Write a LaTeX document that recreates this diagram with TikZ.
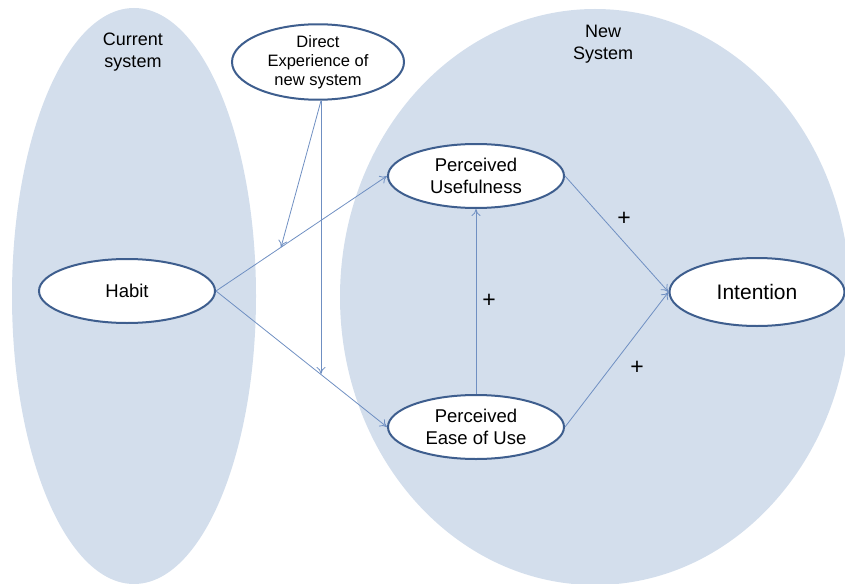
\documentclass[tikz,border=0pt]{standalone}
\usepackage{fontspec}
\setmainfont{Liberation Sans}
\usetikzlibrary{calc,shapes.geometric,arrows.meta}
\definecolor{zone}{HTML}{D3DEEC}
\definecolor{rim}{HTML}{3E5E8E}
\definecolor{link}{HTML}{6F8FC2}
\tikzset{
  construct/.style={ellipse, draw=rim, line width=2pt, fill=white,
    minimum width=176pt, minimum height=64pt, inner sep=0pt, align=center,
    font=\fontsize{18.5}{22}\selectfont},
  zonelabel/.style={align=center, font=\fontsize{18}{22}\selectfont},
  sign/.style={font=\fontsize{23}{23}\selectfont},
  path/.style={draw=link, line width=0.8pt, -{To[length=7pt,width=9pt]}}
}
\begin{document}
\begin{tikzpicture}[x=1pt,y=-1pt]
\useasboundingbox (0,0) rectangle (845,583);
% background regions
\fill[zone] (134,296) ellipse [x radius=122, y radius=288];
\fill[zone] (595,297) ellipse [x radius=255, y radius=288];
\node[zonelabel] (cur) at (133,52) {Current\\system};
\node[zonelabel] (new) at (603,44) {New\\System};
% constructs
\node[construct, minimum width=172pt, font=\fontsize{16.5}{19}\selectfont] (de) at (318,62) {Direct\\Experience of\\new system};
\node[construct] (habit) at (127,291) {Habit};
\node[construct] (pu) at (476,176) {Perceived\\Usefulness};
\node[construct] (peou) at (476,427) {Perceived\\Ease of Use};
\node[construct, minimum width=175pt, minimum height=68pt, font=\fontsize{21}{24}\selectfont] (int) at (757,292) {Intention};
% connectors
\draw[path] (habit.east) -- (pu.west);
\draw[path] (habit.east) -- (peou.west);
\coordinate (m1) at ($(habit.east)!0.38!(pu.west)$);
\coordinate (m2) at ($(habit.east)!0.61!(peou.west)$);
\coordinate (ds) at ($(de.south)+(3,0)$);
\draw[path] (ds) -- (m1);
\draw[path] (ds) -- (ds |- m2);
\draw[path] (peou.north) -- (pu.south);
\draw[path] (pu.east) -- (int.west);
\draw[path] (peou.east) -- (int.west);
% signs
\node[sign] (s1) at (624,219) {+};
\node[sign] (s2) at (489,301) {+};
\node[sign] (s3) at (637,368) {+};
\end{tikzpicture}
\end{document}
